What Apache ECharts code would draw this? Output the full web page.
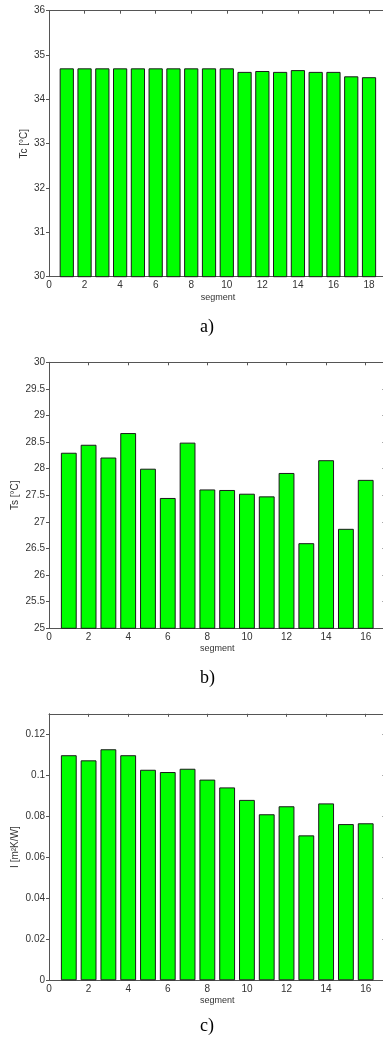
<!DOCTYPE html>
<html>
<head>
<meta charset="utf-8">
<script src="https://cdn.jsdelivr.net/npm/echarts@6/dist/echarts.min.js"></script>
<style>
html,body{margin:0;padding:0;background:#fff;overflow:hidden;width:383px;height:1040px;}
#c{width:390px;height:1040px;}
</style>
</head>
<body>
<div id="c"></div>
<script>
// ---- data ----
var segmentsA = [1,2,3,4,5,6,7,8,9,10,11,12,13,14,15,16,17,18];
var tcValues = [34.7,34.7,34.7,34.7,34.7,34.7,34.7,34.7,34.7,34.7,34.62,34.64,34.62,34.66,34.62,34.62,34.52,34.5];
var segmentsB = [1,2,3,4,5,6,7,8,9,10,11,12,13,14,15,16];
var tsValues = [28.3,28.45,28.21,28.67,28.0,27.45,28.49,27.61,27.6,27.53,27.48,27.92,26.6,28.16,26.87,27.79];
var segmentsC = [1,2,3,4,5,6,7,8,9,10,11,12,13,14,15,16];
var iValues = [0.1098,0.1073,0.1127,0.1098,0.1027,0.1016,0.1032,0.0979,0.0941,0.088,0.081,0.0849,0.0707,0.0863,0.0762,0.0766];
var xTicks = {a:{min:0,max:19,interval:2}, b:{min:0,max:17,interval:2}, c:{min:0,max:17,interval:2}};
var yTicks = {a:{min:30,max:36,interval:1}, b:{min:25,max:30,interval:0.5}, c:{min:0,max:0.13,interval:0.02}};
var yNames = ['Tc [°C]','Ts [°C]','I [m²K/W]'];
var xName = 'segment';
var captions = ['a)','b)','c)'];

// ---- layout ----
var LEFT = 49;
var grids = [
  {left:LEFT, top:10.7, width:337.8, height:266, outerBoundsMode:'none', containLabel:false},
  {left:LEFT, top:362.3, width:336.5, height:266, outerBoundsMode:'none', containLabel:false},
  {left:LEFT, top:713.8, width:336.5, height:266.5, outerBoundsMode:'none', containLabel:false}
];
var captionY = [318, 669, 1017];
var yNameGap = [20, 28.5, 28.5];
var showMaxY = [true, true, false];
var keys = ['a','b','c'];
var segs = [segmentsA, segmentsB, segmentsC];
var vals = [tcValues, tsValues, iValues];

var axisColor = '#555';
var textColor = '#333';
var font = 'Liberation Sans, Arial, sans-serif';

var option = {
  animation:false,
  backgroundColor:'#fff',
  grid:[], xAxis:[], yAxis:[], series:[], graphic:[]
};

for (var i=0;i<3;i++){
  var k = keys[i];
  option.grid.push(grids[i]);
  option.xAxis.push({
    type:'value', gridIndex:i, position:'bottom',
    min:xTicks[k].min, max:xTicks[k].max, interval:xTicks[k].interval,
    name:xName, nameLocation:'middle', nameGap:16, nameMoveOverlap:false,
    nameTextStyle:{fontFamily:font, fontSize:9, color:textColor},
    axisLine:{show:true, onZero:false, lineStyle:{color:axisColor, width:1}},
    axisTick:{show:false},
    axisLabel:{fontFamily:font, fontSize:10, color:textColor, margin:4, showMaxLabel:false},
    splitLine:{show:false}
  });
  option.xAxis.push({
    type:'value', gridIndex:i, position:'top',
    min:xTicks[k].min, max:xTicks[k].max, interval:xTicks[k].interval,
    axisLine:{show:true, onZero:false, lineStyle:{color:axisColor, width:1}},
    axisTick:{show:true, inside:true, length:3, lineStyle:{color:axisColor}},
    axisLabel:{show:false}, splitLine:{show:false}
  });
  option.yAxis.push({
    type:'value', gridIndex:i, position:'left',
    min:yTicks[k].min, max:yTicks[k].max, interval:yTicks[k].interval,
    name:yNames[i], nameLocation:'middle', nameGap:yNameGap[i], nameMoveOverlap:false,
    nameTextStyle:{fontFamily:font, fontSize:10, color:textColor},
    axisLine:{show:true, onZero:false, lineStyle:{color:axisColor, width:1}},
    axisTick:{show:true, inside:false, length:3, lineStyle:{color:axisColor}},
    axisLabel:{fontFamily:font, fontSize:10, color:textColor, margin:4, showMaxLabel:showMaxY[i]},
    splitLine:{show:false}
  });
  option.yAxis.push({
    type:'value', gridIndex:i, position:'right',
    min:yTicks[k].min, max:yTicks[k].max, interval:yTicks[k].interval,
    axisLine:{show:true, onZero:false, lineStyle:{color:axisColor, width:1}},
    axisTick:{show:true, inside:true, length:3, lineStyle:{color:axisColor}},
    axisLabel:{show:false}, splitLine:{show:false}
  });
  var unit = grids[i].width / (xTicks[k].max - xTicks[k].min);
  var data = segs[i].map(function(s, j){ return [s, vals[i][j]]; });
  option.series.push({
    type:'bar', xAxisIndex:i*2, yAxisIndex:i*2,
    data:data, barWidth: unit*0.8,
    itemStyle:{color:'#00ff00', borderColor:'#1a1a1a', borderWidth:1},
    silent:true
  });
  option.graphic.push({
    type:'text', left:200, top:captionY[i],
    style:{text:captions[i], font:'18px "Liberation Serif", "Times New Roman", serif', fill:'#000'}
  });
}

var chart = echarts.init(document.getElementById('c'), null, {renderer:'canvas'});
chart.setOption(option);
</script>
</body>
</html>
